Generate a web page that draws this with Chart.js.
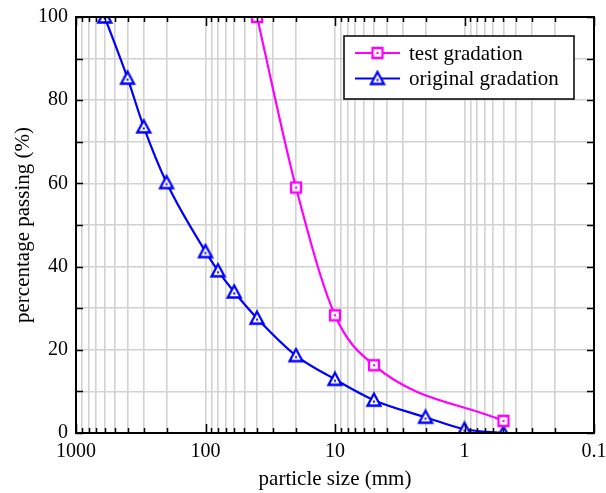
<!DOCTYPE html>
<html>
<head>
<meta charset="utf-8">
<script src="https://cdn.jsdelivr.net/npm/chart.js@4.4.0/dist/chart.umd.min.js"></script>
<style>
html, body { margin: 0; padding: 0; background: #fff; }
</style>
</head>
<body>
<canvas id="gradChart" width="606" height="493"></canvas>
<script>
// Data
const testSizes = [40, 20, 10, 5, 0.5];
const testPassing = [100, 59, 28.3, 16.3, 2.9];
const origSizes = [600, 400, 300, 200, 100, 80, 60, 40, 20, 10, 5, 2, 1, 0.5];
const origPassing = [100, 85.3, 73.6, 60.2, 43.6, 39, 33.9, 27.6, 18.6, 12.9, 7.9, 3.8, 0.9, 0];
const xDecades = [0.1, 1, 10, 100, 1000];
const yLabelTicks = [0, 20, 40, 60, 80, 100];

const serif = '"Liberation Serif", "Times New Roman", serif';
const gridGray = '#d2d2d2';

function isDecade(v) {
    const l = Math.log10(v);
    return Math.abs(l - Math.round(l)) < 1e-9;
}

// open marker with a small dot in the middle
function makeMarker(shape, color) {
    const c = document.createElement('canvas');
    c.width = 18; c.height = 18;
    const g = c.getContext('2d');
    g.strokeStyle = color;
    g.fillStyle = '#fff';
    g.lineWidth = 2.3;
    g.beginPath();
    if (shape === 'square') {
        g.rect(4, 4, 10, 10);
    } else {
        g.moveTo(9, 2.5);
        g.lineTo(15.5, 14.5);
        g.lineTo(2.5, 14.5);
        g.closePath();
    }
    g.fill();
    g.stroke();
    g.fillStyle = color;
    g.fillRect(8, shape === 'square' ? 8 : 9.5, 2, 2);
    return c;
}

const testMarker = makeMarker('square', '#ff00ff');
const origMarker = makeMarker('triangle', '#0000ff');

// frame, inward ticks and the boxed legend
const framePlugin = {
    id: 'frame',
    afterDatasetsDraw(chart) {
        const ctx = chart.ctx;
        const a = chart.chartArea;
        const xs = chart.scales.x, ys = chart.scales.y;
        ctx.save();
        ctx.strokeStyle = '#000';
        ctx.lineWidth = 1.5;
        ctx.beginPath();
        xs.ticks.forEach(t => {
            const px = Math.round(xs.getPixelForValue(t.value)) + 0.5;
            const len = isDecade(t.value) ? 9 : 5;
            ctx.moveTo(px, a.bottom); ctx.lineTo(px, a.bottom - len);
            ctx.moveTo(px, a.top); ctx.lineTo(px, a.top + len);
        });
        ys.ticks.forEach(t => {
            const py = Math.round(ys.getPixelForValue(t.value)) + 0.5;
            ctx.moveTo(a.left, py); ctx.lineTo(a.left + 7, py);
            ctx.moveTo(a.right, py); ctx.lineTo(a.right - 7, py);
        });
        ctx.stroke();
        ctx.lineWidth = 2;
        ctx.strokeRect(a.left, a.top, a.right - a.left, a.bottom - a.top);

        // legend
        ctx.lineWidth = 1.5;
        ctx.fillStyle = '#fff';
        ctx.fillRect(344, 36, 230, 63);
        ctx.strokeRect(344, 36, 230, 63);
        ctx.font = '21px ' + serif;
        ctx.textBaseline = 'middle';
        chart.data.datasets.forEach((ds, i) => {
            const y = 53 + i * 25.5;
            ctx.strokeStyle = ds.borderColor;
            ctx.lineWidth = 2.2;
            ctx.beginPath();
            ctx.moveTo(355, y); ctx.lineTo(400, y);
            ctx.stroke();
            ctx.drawImage(ds.pointStyle, 377.5 - 9, y - 9);
            ctx.fillStyle = '#000';
            ctx.fillText(ds.label, 409, y + 1);
        });
        ctx.restore();
    }
};

new Chart(document.getElementById('gradChart'), {
    type: 'line',
    data: {
        datasets: [{
            label: 'test gradation',
            data: testSizes.map((s, i) => ({ x: s, y: testPassing[i] })),
            borderColor: '#ff00ff',
            borderWidth: 2.2,
            pointStyle: testMarker,
            cubicInterpolationMode: 'monotone',
            clip: 0
        }, {
            label: 'original gradation',
            data: origSizes.map((s, i) => ({ x: s, y: origPassing[i] })),
            borderColor: '#0000ff',
            borderWidth: 2.2,
            pointStyle: origMarker,
            cubicInterpolationMode: 'monotone',
            clip: 0
        }]
    },
    plugins: [framePlugin],
    options: {
        responsive: false,
        animation: false,
        devicePixelRatio: 1,
        layout: { padding: { top: 17, right: 12, left: 0, bottom: 0 } },
        plugins: {
            legend: { display: false },
            tooltip: { enabled: false }
        },
        scales: {
            x: {
                type: 'logarithmic',
                reverse: true,
                min: 0.1,
                max: 1000,
                afterBuildTicks(scale) {
                    const ticks = [];
                    for (let d = 0; d < xDecades.length - 1; d++) {
                        for (let k = 1; k < 10; k++) ticks.push({ value: k * xDecades[d] });
                    }
                    ticks.push({ value: xDecades[xDecades.length - 1] });
                    scale.ticks = ticks;
                },
                afterFit(scale) {
                    scale.height = 60;
                    scale.paddingLeft = 0;
                    scale.paddingRight = 0;
                },
                grid: { color: gridGray, lineWidth: 1.6, drawTicks: false },
                border: { display: false },
                ticks: {
                    autoSkip: false,
                    maxRotation: 0,
                    padding: 7,
                    color: '#000',
                    font: { family: serif, size: 20 },
                    callback: v => isDecade(v) ? String(+v.toPrecision(6)) : ''
                },
                title: {
                    display: true,
                    text: 'particle size (mm)',
                    color: '#000',
                    font: { family: serif, size: 21 },
                    padding: { top: 0, bottom: 1 }
                }
            },
            y: {
                min: 0,
                max: 100,
                ticks: {
                    stepSize: 10,
                    padding: 8,
                    color: '#000',
                    font: { family: serif, size: 20 },
                    callback: v => yLabelTicks.includes(v) ? String(v) : ''
                },
                afterFit(scale) {
                    scale.width = 76;
                    scale.paddingTop = 0;
                    scale.paddingBottom = 0;
                },
                grid: { color: gridGray, lineWidth: 1.6, drawTicks: false },
                border: { display: false },
                title: {
                    display: true,
                    text: 'percentage passing (%)',
                    color: '#000',
                    font: { family: serif, size: 21 },
                    padding: { top: 11, bottom: 0 }
                }
            }
        }
    }
});
</script>
</body>
</html>
